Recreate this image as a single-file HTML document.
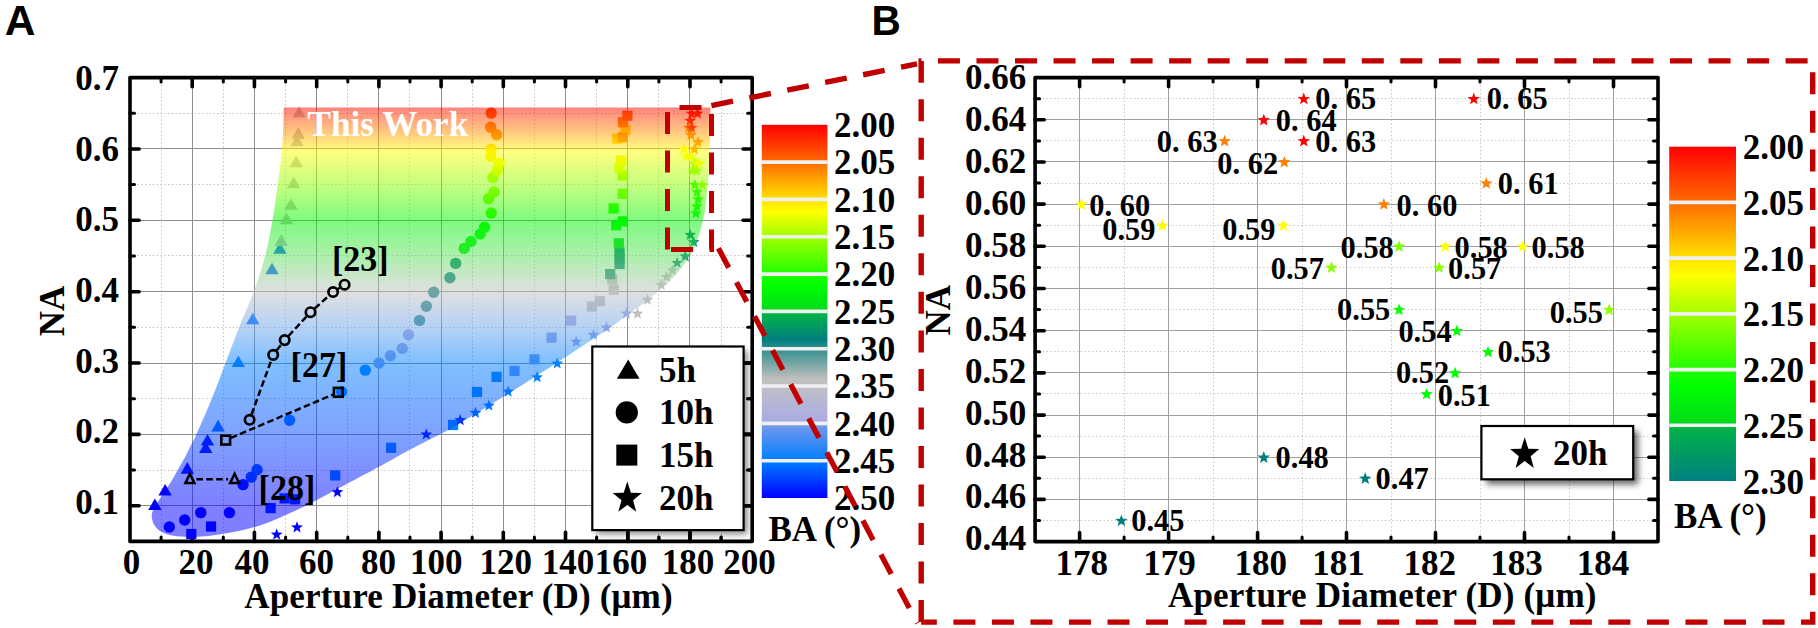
<!DOCTYPE html>
<html lang="en"><head><meta charset="utf-8"><title>Figure</title><style>html,body{margin:0;padding:0;background:#fff}svg{display:block}</style></head><body>
<svg width="1818" height="628" viewBox="0 0 1818 628">
<defs>
<linearGradient id="cbA" x1="0" y1="0" x2="0" y2="1">
<stop offset="0.0000" stop-color="#ff0000"/>
<stop offset="0.1000" stop-color="#ff6c00"/>
<stop offset="0.2000" stop-color="#ffe100"/>
<stop offset="0.2320" stop-color="#ffff00"/>
<stop offset="0.3000" stop-color="#a2ff00"/>
<stop offset="0.4000" stop-color="#20ff00"/>
<stop offset="0.4300" stop-color="#00ff00"/>
<stop offset="0.4940" stop-color="#00dc19"/>
<stop offset="0.5060" stop-color="#00b248"/>
<stop offset="0.5760" stop-color="#007e7e"/>
<stop offset="0.6000" stop-color="#328e8e"/>
<stop offset="0.6800" stop-color="#bebebe"/>
<stop offset="0.7000" stop-color="#c0c0c6"/>
<stop offset="0.7900" stop-color="#acace2"/>
<stop offset="0.8100" stop-color="#6e96ec"/>
<stop offset="0.9000" stop-color="#0080ff"/>
<stop offset="1.0000" stop-color="#0000ff"/>
</linearGradient>
<linearGradient id="cbB" x1="0" y1="0" x2="0" y2="1">
<stop offset="0.0000" stop-color="#ff0000"/>
<stop offset="0.1667" stop-color="#ff6c00"/>
<stop offset="0.3333" stop-color="#ffe100"/>
<stop offset="0.3867" stop-color="#ffff00"/>
<stop offset="0.5000" stop-color="#a2ff00"/>
<stop offset="0.6667" stop-color="#20ff00"/>
<stop offset="0.7167" stop-color="#00ff00"/>
<stop offset="0.8233" stop-color="#00dc19"/>
<stop offset="0.8433" stop-color="#00b248"/>
<stop offset="1.0000" stop-color="#008080"/>
</linearGradient>
<linearGradient id="ovl" gradientUnits="userSpaceOnUse" x1="0" y1="106.1" x2="0" y2="541.4">
<stop offset="0.0000" stop-color="#ff0000"/>
<stop offset="0.0508" stop-color="#ff7c00"/>
<stop offset="0.1033" stop-color="#ffff00"/>
<stop offset="0.1803" stop-color="#8cff00"/>
<stop offset="0.2623" stop-color="#00f500"/>
<stop offset="0.3443" stop-color="#5ae15a"/>
<stop offset="0.4262" stop-color="#c0c0c0"/>
<stop offset="0.5082" stop-color="#6ea5eb"/>
<stop offset="0.5902" stop-color="#0080ff"/>
<stop offset="0.7541" stop-color="#0046ff"/>
<stop offset="0.9180" stop-color="#0000ff"/>
<stop offset="1.0000" stop-color="#0000ff"/>
</linearGradient>
<filter id="sh" x="-15%" y="-30%" width="140%" height="170%"><feGaussianBlur stdDeviation="3"/></filter>
<clipPath id="clipA"><rect x="130.0" y="77.6" width="622.2" height="463.8"/></clipPath>
</defs>
<rect width="1818" height="628" fill="#ffffff"/>
<style>.tk{stroke:#000;stroke-width:3.6;stroke-linecap:round}.tm{stroke:#000;stroke-width:3;stroke-linecap:round}text{font-family:"Liberation Serif", "Times New Roman", serif;font-weight:bold;fill:#000}.s{font-family:"Liberation Sans", Arial, sans-serif}</style>
<g id="panelA">
<line x1="161.5" y1="77.6" x2="161.5" y2="541.4" stroke="#c2c2c2" stroke-width="1" stroke-dasharray="1.5 2.3"/>
<line x1="223.5" y1="77.6" x2="223.5" y2="541.4" stroke="#c2c2c2" stroke-width="1" stroke-dasharray="1.5 2.3"/>
<line x1="285.5" y1="77.6" x2="285.5" y2="541.4" stroke="#c2c2c2" stroke-width="1" stroke-dasharray="1.5 2.3"/>
<line x1="347.5" y1="77.6" x2="347.5" y2="541.4" stroke="#c2c2c2" stroke-width="1" stroke-dasharray="1.5 2.3"/>
<line x1="409.5" y1="77.6" x2="409.5" y2="541.4" stroke="#c2c2c2" stroke-width="1" stroke-dasharray="1.5 2.3"/>
<line x1="472.5" y1="77.6" x2="472.5" y2="541.4" stroke="#c2c2c2" stroke-width="1" stroke-dasharray="1.5 2.3"/>
<line x1="534.5" y1="77.6" x2="534.5" y2="541.4" stroke="#c2c2c2" stroke-width="1" stroke-dasharray="1.5 2.3"/>
<line x1="596.5" y1="77.6" x2="596.5" y2="541.4" stroke="#c2c2c2" stroke-width="1" stroke-dasharray="1.5 2.3"/>
<line x1="658.5" y1="77.6" x2="658.5" y2="541.4" stroke="#c2c2c2" stroke-width="1" stroke-dasharray="1.5 2.3"/>
<line x1="721.5" y1="77.6" x2="721.5" y2="541.4" stroke="#c2c2c2" stroke-width="1" stroke-dasharray="1.5 2.3"/>
<line x1="130.0" y1="470.5" x2="752.2" y2="470.5" stroke="#c2c2c2" stroke-width="1" stroke-dasharray="1.5 2.3"/>
<line x1="130.0" y1="398.5" x2="752.2" y2="398.5" stroke="#c2c2c2" stroke-width="1" stroke-dasharray="1.5 2.3"/>
<line x1="130.0" y1="327.5" x2="752.2" y2="327.5" stroke="#c2c2c2" stroke-width="1" stroke-dasharray="1.5 2.3"/>
<line x1="130.0" y1="255.5" x2="752.2" y2="255.5" stroke="#c2c2c2" stroke-width="1" stroke-dasharray="1.5 2.3"/>
<line x1="130.0" y1="184.5" x2="752.2" y2="184.5" stroke="#c2c2c2" stroke-width="1" stroke-dasharray="1.5 2.3"/>
<line x1="130.0" y1="113.5" x2="752.2" y2="113.5" stroke="#c2c2c2" stroke-width="1" stroke-dasharray="1.5 2.3"/>
<line x1="192.5" y1="77.6" x2="192.5" y2="541.4" stroke="#8e8e8e" stroke-width="1"/>
<line x1="254.5" y1="77.6" x2="254.5" y2="541.4" stroke="#8e8e8e" stroke-width="1"/>
<line x1="316.5" y1="77.6" x2="316.5" y2="541.4" stroke="#8e8e8e" stroke-width="1"/>
<line x1="378.5" y1="77.6" x2="378.5" y2="541.4" stroke="#8e8e8e" stroke-width="1"/>
<line x1="441.5" y1="77.6" x2="441.5" y2="541.4" stroke="#8e8e8e" stroke-width="1"/>
<line x1="503.5" y1="77.6" x2="503.5" y2="541.4" stroke="#8e8e8e" stroke-width="1"/>
<line x1="565.5" y1="77.6" x2="565.5" y2="541.4" stroke="#8e8e8e" stroke-width="1"/>
<line x1="627.5" y1="77.6" x2="627.5" y2="541.4" stroke="#8e8e8e" stroke-width="1"/>
<line x1="689.5" y1="77.6" x2="689.5" y2="541.4" stroke="#8e8e8e" stroke-width="1"/>
<line x1="130.0" y1="505.5" x2="752.2" y2="505.5" stroke="#8e8e8e" stroke-width="1"/>
<line x1="130.0" y1="434.5" x2="752.2" y2="434.5" stroke="#8e8e8e" stroke-width="1"/>
<line x1="130.0" y1="363.5" x2="752.2" y2="363.5" stroke="#8e8e8e" stroke-width="1"/>
<line x1="130.0" y1="291.5" x2="752.2" y2="291.5" stroke="#8e8e8e" stroke-width="1"/>
<line x1="130.0" y1="220.5" x2="752.2" y2="220.5" stroke="#8e8e8e" stroke-width="1"/>
<line x1="130.0" y1="148.5" x2="752.2" y2="148.5" stroke="#8e8e8e" stroke-width="1"/>
<line x1="192.2" y1="541.4" x2="192.2" y2="532.3" class="tk"/>
<line x1="192.2" y1="77.6" x2="192.2" y2="86.7" class="tk"/>
<line x1="254.4" y1="541.4" x2="254.4" y2="532.3" class="tk"/>
<line x1="254.4" y1="77.6" x2="254.4" y2="86.7" class="tk"/>
<line x1="316.7" y1="541.4" x2="316.7" y2="532.3" class="tk"/>
<line x1="316.7" y1="77.6" x2="316.7" y2="86.7" class="tk"/>
<line x1="378.9" y1="541.4" x2="378.9" y2="532.3" class="tk"/>
<line x1="378.9" y1="77.6" x2="378.9" y2="86.7" class="tk"/>
<line x1="441.1" y1="541.4" x2="441.1" y2="532.3" class="tk"/>
<line x1="441.1" y1="77.6" x2="441.1" y2="86.7" class="tk"/>
<line x1="503.3" y1="541.4" x2="503.3" y2="532.3" class="tk"/>
<line x1="503.3" y1="77.6" x2="503.3" y2="86.7" class="tk"/>
<line x1="565.5" y1="541.4" x2="565.5" y2="532.3" class="tk"/>
<line x1="565.5" y1="77.6" x2="565.5" y2="86.7" class="tk"/>
<line x1="627.8" y1="541.4" x2="627.8" y2="532.3" class="tk"/>
<line x1="627.8" y1="77.6" x2="627.8" y2="86.7" class="tk"/>
<line x1="690.0" y1="541.4" x2="690.0" y2="532.3" class="tk"/>
<line x1="690.0" y1="77.6" x2="690.0" y2="86.7" class="tk"/>
<line x1="161.1" y1="541.4" x2="161.1" y2="536.9" class="tm"/>
<line x1="161.1" y1="77.6" x2="161.1" y2="82.1" class="tm"/>
<line x1="223.3" y1="541.4" x2="223.3" y2="536.9" class="tm"/>
<line x1="223.3" y1="77.6" x2="223.3" y2="82.1" class="tm"/>
<line x1="285.6" y1="541.4" x2="285.6" y2="536.9" class="tm"/>
<line x1="285.6" y1="77.6" x2="285.6" y2="82.1" class="tm"/>
<line x1="347.8" y1="541.4" x2="347.8" y2="536.9" class="tm"/>
<line x1="347.8" y1="77.6" x2="347.8" y2="82.1" class="tm"/>
<line x1="410.0" y1="541.4" x2="410.0" y2="536.9" class="tm"/>
<line x1="410.0" y1="77.6" x2="410.0" y2="82.1" class="tm"/>
<line x1="472.2" y1="541.4" x2="472.2" y2="536.9" class="tm"/>
<line x1="472.2" y1="77.6" x2="472.2" y2="82.1" class="tm"/>
<line x1="534.4" y1="541.4" x2="534.4" y2="536.9" class="tm"/>
<line x1="534.4" y1="77.6" x2="534.4" y2="82.1" class="tm"/>
<line x1="596.6" y1="541.4" x2="596.6" y2="536.9" class="tm"/>
<line x1="596.6" y1="77.6" x2="596.6" y2="82.1" class="tm"/>
<line x1="658.9" y1="541.4" x2="658.9" y2="536.9" class="tm"/>
<line x1="658.9" y1="77.6" x2="658.9" y2="82.1" class="tm"/>
<line x1="721.1" y1="541.4" x2="721.1" y2="536.9" class="tm"/>
<line x1="721.1" y1="77.6" x2="721.1" y2="82.1" class="tm"/>
<line x1="130.0" y1="505.7" x2="139.1" y2="505.7" class="tk"/>
<line x1="752.2" y1="505.7" x2="743.1" y2="505.7" class="tk"/>
<line x1="130.0" y1="434.4" x2="139.1" y2="434.4" class="tk"/>
<line x1="752.2" y1="434.4" x2="743.1" y2="434.4" class="tk"/>
<line x1="130.0" y1="363.0" x2="139.1" y2="363.0" class="tk"/>
<line x1="752.2" y1="363.0" x2="743.1" y2="363.0" class="tk"/>
<line x1="130.0" y1="291.7" x2="139.1" y2="291.7" class="tk"/>
<line x1="752.2" y1="291.7" x2="743.1" y2="291.7" class="tk"/>
<line x1="130.0" y1="220.3" x2="139.1" y2="220.3" class="tk"/>
<line x1="752.2" y1="220.3" x2="743.1" y2="220.3" class="tk"/>
<line x1="130.0" y1="149.0" x2="139.1" y2="149.0" class="tk"/>
<line x1="752.2" y1="149.0" x2="743.1" y2="149.0" class="tk"/>
<line x1="130.0" y1="470.0" x2="134.5" y2="470.0" class="tm"/>
<line x1="752.2" y1="470.0" x2="747.7" y2="470.0" class="tm"/>
<line x1="130.0" y1="398.7" x2="134.5" y2="398.7" class="tm"/>
<line x1="752.2" y1="398.7" x2="747.7" y2="398.7" class="tm"/>
<line x1="130.0" y1="327.3" x2="134.5" y2="327.3" class="tm"/>
<line x1="752.2" y1="327.3" x2="747.7" y2="327.3" class="tm"/>
<line x1="130.0" y1="256.0" x2="134.5" y2="256.0" class="tm"/>
<line x1="752.2" y1="256.0" x2="747.7" y2="256.0" class="tm"/>
<line x1="130.0" y1="184.6" x2="134.5" y2="184.6" class="tm"/>
<line x1="752.2" y1="184.6" x2="747.7" y2="184.6" class="tm"/>
<line x1="130.0" y1="113.3" x2="134.5" y2="113.3" class="tm"/>
<line x1="752.2" y1="113.3" x2="747.7" y2="113.3" class="tm"/>
<g id="ptsA">
<polygon points="154.9,498.4 161.6,510.0 148.2,510.0" fill="#0000ff"/>
<polygon points="165.1,484.0 171.8,495.6 158.4,495.6" fill="#0000ff"/>
<polygon points="187.3,462.1 194.0,473.7 180.6,473.7" fill="#0000ff"/>
<polygon points="205.7,441.4 212.4,453.0 199.0,453.0" fill="#0000ff"/>
<polygon points="207.5,433.9 214.2,445.5 200.8,445.5" fill="#0000ff"/>
<polygon points="218.1,419.8 224.8,431.4 211.4,431.4" fill="#0066ff"/>
<polygon points="238.4,355.5 245.1,367.1 231.7,367.1" fill="#0080ff"/>
<polygon points="252.8,312.7 259.5,324.3 246.1,324.3" fill="#0073ff"/>
<polygon points="272.0,262.7 278.7,274.3 265.3,274.3" fill="#0066ff"/>
<polygon points="279.9,242.2 286.6,253.8 273.2,253.8" fill="#0066ff"/>
<polygon points="281.2,234.3 287.9,245.9 274.5,245.9" fill="#b7b7d2"/>
<polygon points="286.5,212.6 293.2,224.2 279.8,224.2" fill="#bfbfc2"/>
<polygon points="290.9,198.2 297.6,209.8 284.2,209.8" fill="#bfbfc2"/>
<polygon points="293.6,176.6 300.3,188.2 286.9,188.2" fill="#bfbfc2"/>
<polygon points="296.2,155.6 302.9,167.2 289.5,167.2" fill="#bfbfc2"/>
<polygon points="297.0,134.6 303.7,146.2 290.3,146.2" fill="#bfbfc2"/>
<polygon points="298.3,127.1 305.0,138.7 291.6,138.7" fill="#bfbfc2"/>
<polygon points="299.1,106.0 305.8,117.6 292.4,117.6" fill="#bfbfc2"/>
<circle cx="169.3" cy="527.0" r="5.7" fill="#0000ff"/>
<circle cx="184.7" cy="520.0" r="5.7" fill="#0000ff"/>
<circle cx="200.8" cy="512.6" r="5.7" fill="#0000ff"/>
<circle cx="229.4" cy="512.6" r="5.7" fill="#0000ff"/>
<circle cx="243.1" cy="484.6" r="5.7" fill="#0000ff"/>
<circle cx="251.3" cy="477.1" r="5.7" fill="#0040ff"/>
<circle cx="257.1" cy="469.7" r="5.7" fill="#004dff"/>
<circle cx="289.6" cy="420.2" r="5.7" fill="#0066ff"/>
<circle cx="341.6" cy="391.8" r="5.7" fill="#0073ff"/>
<circle cx="365.3" cy="370.1" r="5.7" fill="#0080ff"/>
<circle cx="379.0" cy="363.0" r="5.7" fill="#819de9"/>
<circle cx="390.4" cy="355.7" r="5.7" fill="#93a3e6"/>
<circle cx="402.3" cy="348.4" r="5.7" fill="#a0a8e4"/>
<circle cx="408.5" cy="334.8" r="5.7" fill="#acace2"/>
<circle cx="419.5" cy="320.4" r="5.7" fill="#328e8e"/>
<circle cx="426.4" cy="306.2" r="5.7" fill="#328e8e"/>
<circle cx="433.7" cy="292.2" r="5.7" fill="#1d8787"/>
<circle cx="449.9" cy="277.8" r="5.7" fill="#088181"/>
<circle cx="455.7" cy="263.4" r="5.7" fill="#008a72"/>
<circle cx="464.2" cy="248.4" r="5.7" fill="#00f408"/>
<circle cx="471.0" cy="241.5" r="5.7" fill="#00fa04"/>
<circle cx="480.2" cy="234.0" r="5.7" fill="#00ff00"/>
<circle cx="484.6" cy="227.2" r="5.7" fill="#0bff00"/>
<circle cx="491.2" cy="213.0" r="5.7" fill="#3aff00"/>
<circle cx="488.6" cy="198.6" r="5.7" fill="#6eff00"/>
<circle cx="494.1" cy="192.0" r="5.7" fill="#7bff00"/>
<circle cx="492.8" cy="177.5" r="5.7" fill="#a2ff00"/>
<circle cx="497.3" cy="170.2" r="5.7" fill="#e6ff00"/>
<circle cx="499.1" cy="163.1" r="5.7" fill="#fffd00"/>
<circle cx="490.7" cy="156.2" r="5.7" fill="#fff400"/>
<circle cx="491.2" cy="149.1" r="5.7" fill="#ffe100"/>
<circle cx="496.7" cy="134.7" r="5.7" fill="#ff8800"/>
<circle cx="490.7" cy="127.3" r="5.7" fill="#ff7800"/>
<circle cx="491.2" cy="113.1" r="5.7" fill="#ff4c00"/>
<rect x="186.2" y="528.9" width="10.2" height="10.2" fill="#0000ff"/>
<rect x="205.9" y="521.4" width="10.2" height="10.2" fill="#0000ff"/>
<rect x="265.5" y="503.0" width="10.2" height="10.2" fill="#0026ff"/>
<rect x="279.5" y="493.3" width="10.2" height="10.2" fill="#0026ff"/>
<rect x="290.0" y="494.2" width="10.2" height="10.2" fill="#0026ff"/>
<rect x="330.1" y="470.3" width="10.2" height="10.2" fill="#0073ff"/>
<rect x="386.0" y="442.7" width="10.2" height="10.2" fill="#0080ff"/>
<rect x="448.0" y="419.9" width="10.2" height="10.2" fill="#0080ff"/>
<rect x="471.9" y="386.9" width="10.2" height="10.2" fill="#0080ff"/>
<rect x="491.5" y="371.8" width="10.2" height="10.2" fill="#0080ff"/>
<rect x="509.4" y="365.8" width="10.2" height="10.2" fill="#6294ee"/>
<rect x="529.4" y="354.2" width="10.2" height="10.2" fill="#6e96ec"/>
<rect x="546.5" y="332.5" width="10.2" height="10.2" fill="#8da1e7"/>
<rect x="566.0" y="315.5" width="10.2" height="10.2" fill="#acace2"/>
<rect x="586.8" y="301.4" width="10.2" height="10.2" fill="#bfbfc2"/>
<rect x="594.7" y="296.1" width="10.2" height="10.2" fill="#bfbfc2"/>
<rect x="608.6" y="284.6" width="10.2" height="10.2" fill="#bfbfc2"/>
<rect x="607.1" y="274.4" width="10.2" height="10.2" fill="#bfbfc2"/>
<rect x="605.1" y="269.0" width="10.2" height="10.2" fill="#328e8e"/>
<rect x="614.5" y="258.9" width="10.2" height="10.2" fill="#1d8787"/>
<rect x="614.5" y="253.4" width="10.2" height="10.2" fill="#088181"/>
<rect x="614.4" y="247.4" width="10.2" height="10.2" fill="#008279"/>
<rect x="613.7" y="238.2" width="10.2" height="10.2" fill="#00de17"/>
<rect x="611.2" y="220.2" width="10.2" height="10.2" fill="#00fa04"/>
<rect x="617.6" y="216.3" width="10.2" height="10.2" fill="#00fa04"/>
<rect x="608.5" y="203.3" width="10.2" height="10.2" fill="#15ff00"/>
<rect x="617.6" y="188.7" width="10.2" height="10.2" fill="#6eff00"/>
<rect x="617.6" y="170.3" width="10.2" height="10.2" fill="#a2ff00"/>
<rect x="614.4" y="163.0" width="10.2" height="10.2" fill="#e6ff00"/>
<rect x="616.2" y="155.4" width="10.2" height="10.2" fill="#fff400"/>
<rect x="612.3" y="133.5" width="10.2" height="10.2" fill="#ffca00"/>
<rect x="620.4" y="124.9" width="10.2" height="10.2" fill="#ffca00"/>
<rect x="617.8" y="132.2" width="10.2" height="10.2" fill="#ff8800"/>
<rect x="617.8" y="117.2" width="10.2" height="10.2" fill="#ff7300"/>
<rect x="622.3" y="110.7" width="10.2" height="10.2" fill="#ff5600"/>
<polygon points="276.7,528.4 278.2,532.5 282.6,532.7 279.2,535.4 280.3,539.6 276.7,537.2 273.1,539.6 274.2,535.4 270.8,532.7 275.2,532.5" fill="#0000ff"/>
<polygon points="297.0,521.2 298.5,525.3 302.9,525.5 299.5,528.2 300.6,532.4 297.0,530.0 293.4,532.4 294.5,528.2 291.1,525.5 295.5,525.3" fill="#0000ff"/>
<polygon points="337.4,486.0 338.9,490.1 343.3,490.3 339.9,493.0 341.0,497.2 337.4,494.8 333.8,497.2 334.9,493.0 331.5,490.3 335.9,490.1" fill="#0000ff"/>
<polygon points="426.3,428.3 427.8,432.4 432.2,432.6 428.8,435.3 429.9,439.5 426.3,437.1 422.7,439.5 423.8,435.3 420.4,432.6 424.8,432.4" fill="#0000ff"/>
<polygon points="460.2,414.0 461.7,418.1 466.1,418.3 462.7,421.0 463.8,425.2 460.2,422.8 456.6,425.2 457.7,421.0 454.3,418.3 458.7,418.1" fill="#001aff"/>
<polygon points="475.5,406.7 477.0,410.8 481.4,411.0 478.0,413.7 479.1,417.9 475.5,415.5 471.9,417.9 473.0,413.7 469.6,411.0 474.0,410.8" fill="#0066ff"/>
<polygon points="488.9,399.4 490.4,403.5 494.8,403.7 491.4,406.4 492.5,410.6 488.9,408.2 485.3,410.6 486.4,406.4 483.0,403.7 487.4,403.5" fill="#0073ff"/>
<polygon points="508.2,385.5 509.7,389.6 514.1,389.8 510.7,392.5 511.8,396.7 508.2,394.3 504.6,396.7 505.7,392.5 502.3,389.8 506.7,389.6" fill="#0080ff"/>
<polygon points="537.2,371.1 538.7,375.2 543.1,375.4 539.7,378.1 540.8,382.3 537.2,379.9 533.6,382.3 534.7,378.1 531.3,375.4 535.7,375.2" fill="#0080ff"/>
<polygon points="557.2,357.3 558.7,361.4 563.1,361.6 559.7,364.3 560.8,368.5 557.2,366.1 553.6,368.5 554.7,364.3 551.3,361.6 555.7,361.4" fill="#0080ff"/>
<polygon points="576.2,335.6 577.7,339.7 582.1,339.9 578.7,342.6 579.8,346.8 576.2,344.4 572.6,346.8 573.7,342.6 570.3,339.9 574.7,339.7" fill="#8da1e7"/>
<polygon points="593.5,328.7 595.0,332.8 599.4,333.0 596.0,335.7 597.1,339.9 593.5,337.5 589.9,339.9 591.0,335.7 587.6,333.0 592.0,332.8" fill="#8da1e7"/>
<polygon points="606.5,321.4 608.0,325.5 612.4,325.7 609.0,328.4 610.1,332.6 606.5,330.2 602.9,332.6 604.0,328.4 600.6,325.7 605.0,325.5" fill="#99a5e5"/>
<polygon points="626.4,307.5 627.9,311.6 632.3,311.8 628.9,314.5 630.0,318.7 626.4,316.3 622.8,318.7 623.9,314.5 620.5,311.8 624.9,311.6" fill="#a6aae3"/>
<polygon points="637.5,307.5 639.0,311.6 643.4,311.8 640.0,314.5 641.1,318.7 637.5,316.3 633.9,318.7 635.0,314.5 631.6,311.8 636.0,311.6" fill="#bfbfc2"/>
<polygon points="647.4,293.7 648.9,297.8 653.3,298.0 649.9,300.7 651.0,304.9 647.4,302.5 643.8,304.9 644.9,300.7 641.5,298.0 645.9,297.8" fill="#bfbfc2"/>
<polygon points="661.3,278.7 662.8,282.8 667.2,283.0 663.8,285.7 664.9,289.9 661.3,287.5 657.7,289.9 658.8,285.7 655.4,283.0 659.8,282.8" fill="#bfbfc2"/>
<polygon points="666.6,270.8 668.1,274.9 672.5,275.1 669.1,277.8 670.2,282.0 666.6,279.6 663.0,282.0 664.1,277.8 660.7,275.1 665.1,274.9" fill="#bfbfc2"/>
<polygon points="672.4,264.3 673.9,268.4 678.3,268.6 674.9,271.3 676.0,275.5 672.4,273.1 668.8,275.5 669.9,271.3 666.5,268.6 670.9,268.4" fill="#bfbfc2"/>
<polygon points="677.1,256.8 678.6,260.9 683.0,261.1 679.6,263.8 680.7,268.0 677.1,265.6 673.5,268.0 674.6,263.8 671.2,261.1 675.6,260.9" fill="#1d8787"/>
<polygon points="691.6,107.4 693.1,111.5 697.5,111.7 694.1,114.5 695.2,118.7 691.6,116.3 688.0,118.7 689.1,114.5 685.7,111.7 690.1,111.5" fill="#ff0000"/>
<polygon points="697.5,107.4 699.1,111.5 703.4,111.7 700.0,114.5 701.2,118.7 697.5,116.3 693.9,118.7 695.1,114.5 691.6,111.7 696.0,111.5" fill="#ff0000"/>
<polygon points="690.2,114.6 691.7,118.7 696.1,118.9 692.7,121.6 693.8,125.8 690.2,123.4 686.6,125.8 687.7,121.6 684.3,118.9 688.7,118.7" fill="#ff0000"/>
<polygon points="688.8,121.7 690.4,125.8 694.7,126.0 691.3,128.7 692.5,132.9 688.8,130.5 685.2,132.9 686.4,128.7 682.9,126.0 687.3,125.8" fill="#ff7f00"/>
<polygon points="691.6,121.7 693.1,125.8 697.5,126.0 694.1,128.7 695.2,132.9 691.6,130.5 688.0,132.9 689.1,128.7 685.7,126.0 690.1,125.8" fill="#ff0000"/>
<polygon points="690.9,128.9 692.4,132.9 696.8,133.1 693.4,135.9 694.6,140.1 690.9,137.7 687.3,140.1 688.4,135.9 685.0,133.1 689.4,132.9" fill="#ff7f00"/>
<polygon points="698.0,136.0 699.5,140.1 703.9,140.3 700.5,143.0 701.6,147.2 698.0,144.8 694.3,147.2 695.5,143.0 692.1,140.3 696.4,140.1" fill="#ff7f00"/>
<polygon points="683.8,143.1 685.4,147.2 689.7,147.4 686.3,150.1 687.5,154.3 683.8,151.9 680.2,154.3 681.3,150.1 677.9,147.4 682.3,147.2" fill="#ffff00"/>
<polygon points="694.4,143.1 695.9,147.2 700.3,147.4 696.9,150.1 698.0,154.3 694.4,151.9 690.8,154.3 691.9,150.1 688.5,147.4 692.9,147.2" fill="#ff7f00"/>
<polygon points="686.7,150.3 688.2,154.4 692.5,154.5 689.1,157.3 690.3,161.5 686.7,159.1 683.0,161.5 684.2,157.3 680.8,154.5 685.1,154.4" fill="#ffff00"/>
<polygon points="690.9,150.3 692.4,154.4 696.8,154.5 693.4,157.3 694.5,161.5 690.9,159.1 687.2,161.5 688.4,157.3 685.0,154.5 689.4,154.4" fill="#ffff00"/>
<polygon points="694.9,157.4 696.5,161.5 700.8,161.7 697.4,164.4 698.6,168.6 694.9,166.2 691.3,168.6 692.4,164.4 689.0,161.7 693.4,161.5" fill="#7bff00"/>
<polygon points="696.5,157.4 698.1,161.5 702.4,161.7 699.0,164.4 700.2,168.6 696.5,166.2 692.9,168.6 694.1,164.4 690.6,161.7 695.0,161.5" fill="#ffff00"/>
<polygon points="699.3,157.4 700.8,161.5 705.1,161.7 701.7,164.4 702.9,168.6 699.3,166.2 695.6,168.6 696.8,164.4 693.4,161.7 697.7,161.5" fill="#ffff00"/>
<polygon points="692.6,164.5 694.1,168.6 698.5,168.8 695.0,171.5 696.2,175.7 692.6,173.3 688.9,175.7 690.1,171.5 686.7,168.8 691.0,168.6" fill="#88ff00"/>
<polygon points="696.3,164.5 697.9,168.6 702.2,168.8 698.8,171.5 700.0,175.7 696.3,173.3 692.7,175.7 693.8,171.5 690.4,168.8 694.8,168.6" fill="#88ff00"/>
<polygon points="694.9,178.8 696.5,182.9 700.8,183.1 697.4,185.8 698.6,190.0 694.9,187.6 691.3,190.0 692.4,185.8 689.0,183.1 693.4,182.9" fill="#0bff00"/>
<polygon points="702.3,178.8 703.8,182.9 708.2,183.1 704.7,185.8 705.9,190.0 702.3,187.6 698.6,190.0 699.8,185.8 696.4,183.1 700.7,182.9" fill="#95ff00"/>
<polygon points="696.9,185.9 698.5,190.0 702.8,190.2 699.4,192.9 700.6,197.2 696.9,194.7 693.3,197.2 694.5,192.9 691.1,190.2 695.4,190.0" fill="#00ff00"/>
<polygon points="698.0,193.1 699.6,197.2 703.9,197.4 700.5,200.1 701.7,204.3 698.0,201.9 694.4,204.3 695.6,200.1 692.1,197.4 696.5,197.2" fill="#00ff00"/>
<polygon points="696.9,200.2 698.4,204.3 702.8,204.5 699.4,207.2 700.5,211.4 696.9,209.0 693.2,211.4 694.4,207.2 691.0,204.5 695.4,204.3" fill="#00ff00"/>
<polygon points="695.9,207.3 697.4,211.4 701.8,211.6 698.4,214.3 699.5,218.6 695.9,216.1 692.2,218.6 693.4,214.3 690.0,211.6 694.4,211.4" fill="#00ff00"/>
<polygon points="690.2,228.8 691.7,232.8 696.1,233.0 692.7,235.8 693.8,240.0 690.2,237.6 686.6,240.0 687.7,235.8 684.3,233.0 688.7,232.8" fill="#007e7e"/>
<polygon points="693.7,235.9 695.3,240.0 699.6,240.2 696.2,242.9 697.4,247.1 693.7,244.7 690.1,247.1 691.3,242.9 687.8,240.2 692.2,240.0" fill="#007e7e"/>
<polygon points="685.2,250.2 686.8,254.2 691.1,254.4 687.7,257.2 688.9,261.4 685.2,259.0 681.6,261.4 682.7,257.2 679.3,254.4 683.7,254.2" fill="#007e7e"/>
</g>
<path d="M710.6,107.6 C710.5,111.3 710.5,122.9 710.3,130.0 C710.1,137.1 709.9,143.0 709.6,150.0 C709.3,157.0 709.1,164.5 708.6,172.0 C708.1,179.5 707.4,188.5 706.7,195.0 C706.1,201.5 705.5,205.9 704.7,210.9 C703.9,215.9 702.9,220.2 701.7,224.9 C700.5,229.6 699.4,234.2 697.7,238.8 C696.1,243.5 694.1,248.5 691.8,252.8 C689.5,257.1 686.8,260.7 683.8,264.7 C680.8,268.7 677.4,272.7 673.8,276.7 C670.1,280.7 665.9,285.0 661.9,288.6 C657.9,292.2 653.9,295.5 649.9,298.6 C645.9,301.8 641.3,305.1 638.0,307.5 C634.7,309.9 635.3,309.3 630.0,313.2 C624.7,317.1 613.8,325.2 606.0,330.6 C598.2,336.0 595.0,337.8 583.3,345.4 C571.6,353.0 551.5,366.2 535.6,376.4 C519.7,386.5 502.1,397.6 487.8,406.3 C473.5,415.1 462.5,421.9 450.0,428.9 C437.5,435.9 424.8,441.8 412.7,448.2 C400.6,454.6 392.2,459.6 377.6,467.5 C363.0,475.4 338.0,488.6 325.1,495.5 C312.2,502.4 307.5,505.0 300.0,508.6 C292.5,512.2 286.4,514.8 280.2,517.4 C274.0,520.0 268.5,522.4 262.7,524.4 C256.9,526.4 251.0,528.1 245.2,529.6 C239.3,531.1 233.4,532.1 227.6,533.1 C221.8,534.1 215.9,535.1 210.1,535.8 C204.3,536.4 197.6,536.9 192.6,537.0 C187.6,537.1 184.4,537.0 180.3,536.6 C176.2,536.2 171.5,535.5 168.0,534.5 C164.5,533.5 161.6,532.2 159.3,530.5 C157.0,528.8 155.2,526.4 154.0,524.4 C152.8,522.4 152.2,520.2 151.9,518.2 C151.6,516.2 151.7,514.3 152.3,512.1 C153.0,509.9 154.1,508.0 155.8,505.1 C157.6,502.2 160.3,498.4 162.8,494.6 C165.3,490.8 168.2,486.4 170.7,482.3 C173.2,478.2 175.4,474.1 177.7,470.0 C180.0,465.9 182.5,461.9 184.7,457.8 C186.9,453.7 188.9,449.3 190.8,445.5 C192.7,441.7 192.3,443.4 196.1,435.0 C199.8,426.6 206.3,412.5 213.3,395.0 C220.3,377.5 231.2,347.5 238.1,330.0 C244.9,312.5 249.9,302.5 254.4,290.0 C258.9,277.5 262.4,266.6 265.4,255.0 C268.4,243.3 270.4,231.8 272.5,220.1 C274.6,208.4 276.2,196.2 277.8,184.6 C279.4,173.0 280.9,160.4 281.8,150.5 C282.7,140.6 283.1,132.2 283.4,125.0 C283.7,117.8 283.7,110.5 283.8,107.6 Z" fill="url(#ovl)" fill-opacity="0.5"/>
<text x="307.5" y="135.8" font-size="35.2" style="fill:#fff">This Work</text>
<line x1="251.5" y1="414.5" x2="271.3" y2="360.2" fill="none" stroke="#000" stroke-width="2.5" stroke-dasharray="6.6 3.3"/>
<line x1="276.6" y1="350.5" x2="281.3" y2="344.5" fill="none" stroke="#000" stroke-width="2.5" stroke-dasharray="6.6 3.3"/>
<line x1="288.5" y1="336.0" x2="306.7" y2="316.3" fill="none" stroke="#000" stroke-width="2.5" stroke-dasharray="6.6 3.3"/>
<line x1="314.7" y1="308.5" x2="328.9" y2="295.7" fill="none" stroke="#000" stroke-width="2.5" stroke-dasharray="6.6 3.3"/>
<line x1="337.8" y1="289.0" x2="339.9" y2="287.7" fill="none" stroke="#000" stroke-width="2.5" stroke-dasharray="6.6 3.3"/>
<circle cx="249.6" cy="419.8" r="4.7" fill="none" stroke="#000" stroke-width="2.7"/>
<circle cx="273.2" cy="354.9" r="4.7" fill="none" stroke="#000" stroke-width="2.7"/>
<circle cx="284.7" cy="340.1" r="4.7" fill="none" stroke="#000" stroke-width="2.7"/>
<circle cx="310.5" cy="312.2" r="4.7" fill="none" stroke="#000" stroke-width="2.7"/>
<circle cx="333.1" cy="292.0" r="4.7" fill="none" stroke="#000" stroke-width="2.7"/>
<circle cx="344.6" cy="284.7" r="4.7" fill="none" stroke="#000" stroke-width="2.7"/>
<line x1="230.9" y1="437.9" x2="333.1" y2="394.5" fill="none" stroke="#000" stroke-width="2.5" stroke-dasharray="6.6 3.3"/>
<rect x="221.3" y="435.7" width="8.8" height="8.8" fill="none" stroke="#000" stroke-width="2.6"/>
<rect x="333.9" y="387.9" width="8.8" height="8.8" fill="none" stroke="#000" stroke-width="2.6"/>
<line x1="196.4" y1="479.2" x2="228.1" y2="479.2" fill="none" stroke="#000" stroke-width="2.5" stroke-dasharray="6.6 3.3"/>
<polygon points="189.9,473.8 194.4,483.1 185.4,483.1" fill="none" stroke="#000" stroke-width="2.5"/>
<polygon points="234.6,473.8 239.1,483.1 230.1,483.1" fill="none" stroke="#000" stroke-width="2.5"/>
<text transform="translate(332.0,270.9) scale(0.945,1)" font-size="36">[23]</text>
<text transform="translate(290.6,376.6) scale(0.945,1)" font-size="36">[27]</text>
<text transform="translate(258.6,499.7) scale(0.945,1)" font-size="36">[28]</text>
<text x="119" y="89.9" font-size="35" text-anchor="end">0.7</text>
<text x="119" y="160.6" font-size="35" text-anchor="end">0.6</text>
<text x="119" y="231.2" font-size="35" text-anchor="end">0.5</text>
<text x="119" y="301.8" font-size="35" text-anchor="end">0.4</text>
<text x="119" y="372.5" font-size="35" text-anchor="end">0.3</text>
<text x="119" y="443.1" font-size="35" text-anchor="end">0.2</text>
<text x="119" y="513.8" font-size="35" text-anchor="end">0.1</text>
<text x="131.5" y="573.5" font-size="35" text-anchor="middle">0</text>
<text x="196.0" y="573.5" font-size="35" text-anchor="middle">20</text>
<text x="252.0" y="573.5" font-size="35" text-anchor="middle">40</text>
<text x="316.5" y="573.5" font-size="35" text-anchor="middle">60</text>
<text x="378.4" y="573.5" font-size="35" text-anchor="middle">80</text>
<text x="436.3" y="573.5" font-size="35" text-anchor="middle">100</text>
<text x="505.7" y="573.5" font-size="35" text-anchor="middle">120</text>
<text x="567.9" y="573.5" font-size="35" text-anchor="middle">140</text>
<text x="621.0" y="573.5" font-size="35" text-anchor="middle">160</text>
<text x="688.0" y="573.5" font-size="35" text-anchor="middle">180</text>
<text x="749.4" y="573.5" font-size="35" text-anchor="middle">200</text>
<text x="458.5" y="607.6" font-size="35.1" letter-spacing="0.15" text-anchor="middle">Aperture Diameter (D) (μm)</text>
<text transform="translate(63.9,311) rotate(-90)" font-size="35" text-anchor="middle">NA</text>
<g clip-path="url(#clipA)"><rect x="596.3" y="350.5" width="151.3" height="183.6" fill="#000" fill-opacity="0.46" filter="url(#sh)"/></g>
<line x1="627.8" y1="541.4" x2="627.8" y2="532.3" class="tk"/>
<line x1="690.0" y1="541.4" x2="690.0" y2="532.3" class="tk"/>
<line x1="658.9" y1="541.4" x2="658.9" y2="536.9" class="tm"/>
<line x1="721.1" y1="541.4" x2="721.1" y2="536.9" class="tm"/>
<line x1="752.2" y1="505.7" x2="743.1" y2="505.7" class="tk"/>
<line x1="752.2" y1="434.4" x2="743.1" y2="434.4" class="tk"/>
<line x1="752.2" y1="363.0" x2="743.1" y2="363.0" class="tk"/>
<line x1="752.2" y1="470.0" x2="747.7" y2="470.0" class="tm"/>
<line x1="752.2" y1="398.7" x2="747.7" y2="398.7" class="tm"/>
<rect x="592.3" y="346.5" width="151.3" height="183.6" fill="#fff" stroke="#000" stroke-width="2.2"/>
<polygon points="628.2,359.5 639.5,378.8 616.9,378.8" fill="#000"/>
<circle cx="626.8" cy="412.4" r="11.1" fill="#000"/>
<rect x="616.3" y="444.6" width="21.0" height="21.0" fill="#000"/>
<polygon points="627.3,481.4 630.9,492.7 641.9,493.0 633.1,500.3 636.3,511.8 627.3,504.9 618.3,511.8 621.5,500.3 612.7,493.0 623.7,492.7" fill="#000"/>
<text x="659" y="381.5" font-size="35">5h</text>
<text x="659" y="423.9" font-size="35">10h</text>
<text x="659" y="466.7" font-size="35">15h</text>
<text x="659" y="509.5" font-size="35">20h</text>
<rect x="130.0" y="77.6" width="622.2" height="463.8" fill="none" stroke="#000" stroke-width="3.6" stroke-linejoin="round"/>
<rect x="761.8" y="124.8" width="65.6" height="373.2" fill="url(#cbA)"/>
<text x="834" y="137.0" font-size="35">2.00</text>
<line x1="761.8" y1="162.1" x2="827.4" y2="162.1" stroke="#f0f0f0" stroke-width="3.6"/>
<text x="834" y="174.3" font-size="35">2.05</text>
<line x1="761.8" y1="199.4" x2="827.4" y2="199.4" stroke="#f0f0f0" stroke-width="3.6"/>
<text x="834" y="211.6" font-size="35">2.10</text>
<line x1="761.8" y1="236.8" x2="827.4" y2="236.8" stroke="#f0f0f0" stroke-width="3.6"/>
<text x="834" y="249.0" font-size="35">2.15</text>
<line x1="761.8" y1="274.1" x2="827.4" y2="274.1" stroke="#f0f0f0" stroke-width="3.6"/>
<text x="834" y="286.3" font-size="35">2.20</text>
<line x1="761.8" y1="311.4" x2="827.4" y2="311.4" stroke="#f0f0f0" stroke-width="3.6"/>
<text x="834" y="323.6" font-size="35">2.25</text>
<line x1="761.8" y1="348.7" x2="827.4" y2="348.7" stroke="#f0f0f0" stroke-width="3.6"/>
<text x="834" y="360.9" font-size="35">2.30</text>
<line x1="761.8" y1="386.0" x2="827.4" y2="386.0" stroke="#f0f0f0" stroke-width="3.6"/>
<text x="834" y="398.2" font-size="35">2.35</text>
<line x1="761.8" y1="423.4" x2="827.4" y2="423.4" stroke="#f0f0f0" stroke-width="3.6"/>
<text x="834" y="435.6" font-size="35">2.40</text>
<line x1="761.8" y1="460.7" x2="827.4" y2="460.7" stroke="#f0f0f0" stroke-width="3.6"/>
<text x="834" y="472.9" font-size="35">2.45</text>
<text x="834" y="510.2" font-size="35">2.50</text>
<text x="768.5" y="540.5" font-size="35">BA (°)</text>
</g>
<g id="panelB">
<line x1="1124.5" y1="77.6" x2="1124.5" y2="541.6" stroke="#c8c8c8" stroke-width="1" stroke-dasharray="1.5 2.3"/>
<line x1="1213.5" y1="77.6" x2="1213.5" y2="541.6" stroke="#c8c8c8" stroke-width="1" stroke-dasharray="1.5 2.3"/>
<line x1="1302.5" y1="77.6" x2="1302.5" y2="541.6" stroke="#c8c8c8" stroke-width="1" stroke-dasharray="1.5 2.3"/>
<line x1="1391.5" y1="77.6" x2="1391.5" y2="541.6" stroke="#c8c8c8" stroke-width="1" stroke-dasharray="1.5 2.3"/>
<line x1="1480.5" y1="77.6" x2="1480.5" y2="541.6" stroke="#c8c8c8" stroke-width="1" stroke-dasharray="1.5 2.3"/>
<line x1="1569.5" y1="77.6" x2="1569.5" y2="541.6" stroke="#c8c8c8" stroke-width="1" stroke-dasharray="1.5 2.3"/>
<line x1="1035.1" y1="520.5" x2="1658.0" y2="520.5" stroke="#c8c8c8" stroke-width="1" stroke-dasharray="1.5 2.3"/>
<line x1="1035.1" y1="478.5" x2="1658.0" y2="478.5" stroke="#c8c8c8" stroke-width="1" stroke-dasharray="1.5 2.3"/>
<line x1="1035.1" y1="436.5" x2="1658.0" y2="436.5" stroke="#c8c8c8" stroke-width="1" stroke-dasharray="1.5 2.3"/>
<line x1="1035.1" y1="393.5" x2="1658.0" y2="393.5" stroke="#c8c8c8" stroke-width="1" stroke-dasharray="1.5 2.3"/>
<line x1="1035.1" y1="351.5" x2="1658.0" y2="351.5" stroke="#c8c8c8" stroke-width="1" stroke-dasharray="1.5 2.3"/>
<line x1="1035.1" y1="309.5" x2="1658.0" y2="309.5" stroke="#c8c8c8" stroke-width="1" stroke-dasharray="1.5 2.3"/>
<line x1="1035.1" y1="267.5" x2="1658.0" y2="267.5" stroke="#c8c8c8" stroke-width="1" stroke-dasharray="1.5 2.3"/>
<line x1="1035.1" y1="225.5" x2="1658.0" y2="225.5" stroke="#c8c8c8" stroke-width="1" stroke-dasharray="1.5 2.3"/>
<line x1="1035.1" y1="183.5" x2="1658.0" y2="183.5" stroke="#c8c8c8" stroke-width="1" stroke-dasharray="1.5 2.3"/>
<line x1="1035.1" y1="140.5" x2="1658.0" y2="140.5" stroke="#c8c8c8" stroke-width="1" stroke-dasharray="1.5 2.3"/>
<line x1="1035.1" y1="98.5" x2="1658.0" y2="98.5" stroke="#c8c8c8" stroke-width="1" stroke-dasharray="1.5 2.3"/>
<line x1="1079.5" y1="77.6" x2="1079.5" y2="541.6" stroke="#a0a0a0" stroke-width="1"/>
<line x1="1168.5" y1="77.6" x2="1168.5" y2="541.6" stroke="#a0a0a0" stroke-width="1"/>
<line x1="1257.5" y1="77.6" x2="1257.5" y2="541.6" stroke="#a0a0a0" stroke-width="1"/>
<line x1="1346.5" y1="77.6" x2="1346.5" y2="541.6" stroke="#a0a0a0" stroke-width="1"/>
<line x1="1435.5" y1="77.6" x2="1435.5" y2="541.6" stroke="#a0a0a0" stroke-width="1"/>
<line x1="1524.5" y1="77.6" x2="1524.5" y2="541.6" stroke="#a0a0a0" stroke-width="1"/>
<line x1="1613.5" y1="77.6" x2="1613.5" y2="541.6" stroke="#a0a0a0" stroke-width="1"/>
<line x1="1035.1" y1="499.5" x2="1658.0" y2="499.5" stroke="#a0a0a0" stroke-width="1"/>
<line x1="1035.1" y1="457.5" x2="1658.0" y2="457.5" stroke="#a0a0a0" stroke-width="1"/>
<line x1="1035.1" y1="415.5" x2="1658.0" y2="415.5" stroke="#a0a0a0" stroke-width="1"/>
<line x1="1035.1" y1="372.5" x2="1658.0" y2="372.5" stroke="#a0a0a0" stroke-width="1"/>
<line x1="1035.1" y1="330.5" x2="1658.0" y2="330.5" stroke="#a0a0a0" stroke-width="1"/>
<line x1="1035.1" y1="288.5" x2="1658.0" y2="288.5" stroke="#a0a0a0" stroke-width="1"/>
<line x1="1035.1" y1="246.5" x2="1658.0" y2="246.5" stroke="#a0a0a0" stroke-width="1"/>
<line x1="1035.1" y1="204.5" x2="1658.0" y2="204.5" stroke="#a0a0a0" stroke-width="1"/>
<line x1="1035.1" y1="161.5" x2="1658.0" y2="161.5" stroke="#a0a0a0" stroke-width="1"/>
<line x1="1035.1" y1="119.5" x2="1658.0" y2="119.5" stroke="#a0a0a0" stroke-width="1"/>
<polygon points="1303.8,92.6 1305.4,96.9 1310.0,97.1 1306.4,99.9 1307.7,104.3 1303.8,101.8 1300.0,104.3 1301.2,99.9 1297.7,97.1 1302.2,96.9" fill="#ff0000"/>
<polygon points="1473.8,92.6 1475.4,96.9 1480.0,97.1 1476.4,99.9 1477.6,104.3 1473.8,101.8 1470.0,104.3 1471.2,99.9 1467.6,97.1 1472.2,96.9" fill="#ff0000"/>
<polygon points="1263.8,113.7 1265.4,118.0 1270.0,118.2 1266.4,121.0 1267.6,125.4 1263.8,122.9 1260.0,125.4 1261.2,121.0 1257.6,118.2 1262.2,118.0" fill="#ff0000"/>
<polygon points="1224.6,134.8 1226.2,139.1 1230.8,139.3 1227.2,142.1 1228.5,146.5 1224.6,144.0 1220.8,146.5 1222.0,142.1 1218.5,139.3 1223.0,139.1" fill="#ff7f00"/>
<polygon points="1303.8,134.8 1305.4,139.1 1310.0,139.3 1306.4,142.1 1307.7,146.5 1303.8,144.0 1300.0,146.5 1301.2,142.1 1297.7,139.3 1302.2,139.1" fill="#ff0000"/>
<polygon points="1284.3,155.9 1285.9,160.1 1290.4,160.3 1286.9,163.2 1288.1,167.6 1284.3,165.1 1280.4,167.6 1281.7,163.2 1278.1,160.3 1282.7,160.1" fill="#ff7f00"/>
<polygon points="1486.3,176.9 1487.9,181.2 1492.4,181.4 1488.9,184.3 1490.1,188.7 1486.3,186.2 1482.4,188.7 1483.7,184.3 1480.1,181.4 1484.7,181.2" fill="#ff7f00"/>
<polygon points="1081.4,198.0 1083.0,202.3 1087.6,202.5 1084.0,205.4 1085.2,209.8 1081.4,207.3 1077.6,209.8 1078.8,205.4 1075.2,202.5 1079.8,202.3" fill="#ffff00"/>
<polygon points="1383.9,198.0 1385.5,202.3 1390.1,202.5 1386.5,205.4 1387.7,209.8 1383.9,207.3 1380.1,209.8 1381.3,205.4 1377.7,202.5 1382.3,202.3" fill="#ff7f00"/>
<polygon points="1162.3,219.1 1164.0,223.4 1168.5,223.6 1164.9,226.5 1166.2,230.9 1162.3,228.4 1158.5,230.9 1159.8,226.5 1156.2,223.6 1160.7,223.4" fill="#ffff00"/>
<polygon points="1283.4,219.1 1285.0,223.4 1289.6,223.6 1286.0,226.5 1287.2,230.9 1283.4,228.4 1279.5,230.9 1280.8,226.5 1277.2,223.6 1281.8,223.4" fill="#ffff00"/>
<polygon points="1399.1,240.2 1400.7,244.5 1405.2,244.7 1401.6,247.6 1402.9,252.0 1399.1,249.4 1395.2,252.0 1396.5,247.6 1392.9,244.7 1397.4,244.5" fill="#7bff00"/>
<polygon points="1445.3,240.2 1446.9,244.5 1451.5,244.7 1447.9,247.6 1449.1,252.0 1445.3,249.4 1441.5,252.0 1442.7,247.6 1439.1,244.7 1443.7,244.5" fill="#ffff00"/>
<polygon points="1522.7,240.2 1524.3,244.5 1528.9,244.7 1525.3,247.6 1526.6,252.0 1522.7,249.4 1518.9,252.0 1520.1,247.6 1516.6,244.7 1521.1,244.5" fill="#ffff00"/>
<polygon points="1331.4,261.3 1333.0,265.6 1337.6,265.8 1334.0,268.7 1335.2,273.1 1331.4,270.5 1327.6,273.1 1328.8,268.7 1325.2,265.8 1329.8,265.6" fill="#88ff00"/>
<polygon points="1439.1,261.3 1440.7,265.6 1445.3,265.8 1441.7,268.7 1442.9,273.1 1439.1,270.5 1435.3,273.1 1436.5,268.7 1432.9,265.8 1437.5,265.6" fill="#88ff00"/>
<polygon points="1399.1,303.5 1400.7,307.8 1405.2,308.0 1401.6,310.8 1402.9,315.2 1399.1,312.7 1395.2,315.2 1396.5,310.8 1392.9,308.0 1397.4,307.8" fill="#0bff00"/>
<polygon points="1609.1,303.5 1610.7,307.8 1615.2,308.0 1611.7,310.8 1612.9,315.2 1609.1,312.7 1605.2,315.2 1606.5,310.8 1602.9,308.0 1607.5,307.8" fill="#95ff00"/>
<polygon points="1456.9,324.6 1458.5,328.9 1463.1,329.1 1459.5,331.9 1460.7,336.3 1456.9,333.8 1453.1,336.3 1454.3,331.9 1450.7,329.1 1455.3,328.9" fill="#00ff00"/>
<polygon points="1488.0,345.7 1489.6,350.0 1494.2,350.2 1490.6,353.0 1491.9,357.4 1488.0,354.9 1484.2,357.4 1485.4,353.0 1481.9,350.2 1486.4,350.0" fill="#00ff00"/>
<polygon points="1455.1,366.8 1456.7,371.1 1461.3,371.3 1457.7,374.1 1458.9,378.5 1455.1,376.0 1451.3,378.5 1452.5,374.1 1448.9,371.3 1453.5,371.1" fill="#00ff00"/>
<polygon points="1426.6,387.9 1428.2,392.1 1432.8,392.3 1429.2,395.2 1430.5,399.6 1426.6,397.1 1422.8,399.6 1424.0,395.2 1420.5,392.3 1425.0,392.1" fill="#00ff00"/>
<polygon points="1263.8,451.1 1265.4,455.4 1270.0,455.6 1266.4,458.5 1267.6,462.9 1263.8,460.4 1260.0,462.9 1261.2,458.5 1257.6,455.6 1262.2,455.4" fill="#007e7e"/>
<polygon points="1365.2,472.2 1366.8,476.5 1371.4,476.7 1367.8,479.6 1369.1,484.0 1365.2,481.4 1361.4,484.0 1362.6,479.6 1359.1,476.7 1363.6,476.5" fill="#007e7e"/>
<polygon points="1121.4,514.4 1123.0,518.7 1127.6,518.9 1124.0,521.7 1125.2,526.2 1121.4,523.6 1117.6,526.2 1118.8,521.7 1115.2,518.9 1119.8,518.7" fill="#007e7e"/>
<line x1="1079.6" y1="541.6" x2="1079.6" y2="532.5" class="tk"/>
<line x1="1079.6" y1="77.6" x2="1079.6" y2="86.7" class="tk"/>
<line x1="1168.6" y1="541.6" x2="1168.6" y2="532.5" class="tk"/>
<line x1="1168.6" y1="77.6" x2="1168.6" y2="86.7" class="tk"/>
<line x1="1257.6" y1="541.6" x2="1257.6" y2="532.5" class="tk"/>
<line x1="1257.6" y1="77.6" x2="1257.6" y2="86.7" class="tk"/>
<line x1="1346.5" y1="541.6" x2="1346.5" y2="532.5" class="tk"/>
<line x1="1346.5" y1="77.6" x2="1346.5" y2="86.7" class="tk"/>
<line x1="1435.5" y1="541.6" x2="1435.5" y2="532.5" class="tk"/>
<line x1="1435.5" y1="77.6" x2="1435.5" y2="86.7" class="tk"/>
<line x1="1524.5" y1="541.6" x2="1524.5" y2="532.5" class="tk"/>
<line x1="1524.5" y1="77.6" x2="1524.5" y2="86.7" class="tk"/>
<line x1="1613.5" y1="541.6" x2="1613.5" y2="532.5" class="tk"/>
<line x1="1613.5" y1="77.6" x2="1613.5" y2="86.7" class="tk"/>
<line x1="1124.1" y1="541.6" x2="1124.1" y2="537.1" class="tm"/>
<line x1="1124.1" y1="77.6" x2="1124.1" y2="82.1" class="tm"/>
<line x1="1213.1" y1="541.6" x2="1213.1" y2="537.1" class="tm"/>
<line x1="1213.1" y1="77.6" x2="1213.1" y2="82.1" class="tm"/>
<line x1="1302.1" y1="541.6" x2="1302.1" y2="537.1" class="tm"/>
<line x1="1302.1" y1="77.6" x2="1302.1" y2="82.1" class="tm"/>
<line x1="1391.0" y1="541.6" x2="1391.0" y2="537.1" class="tm"/>
<line x1="1391.0" y1="77.6" x2="1391.0" y2="82.1" class="tm"/>
<line x1="1480.0" y1="541.6" x2="1480.0" y2="537.1" class="tm"/>
<line x1="1480.0" y1="77.6" x2="1480.0" y2="82.1" class="tm"/>
<line x1="1569.0" y1="541.6" x2="1569.0" y2="537.1" class="tm"/>
<line x1="1569.0" y1="77.6" x2="1569.0" y2="82.1" class="tm"/>
<line x1="1035.1" y1="499.4" x2="1044.2" y2="499.4" class="tk"/>
<line x1="1658.0" y1="499.4" x2="1648.9" y2="499.4" class="tk"/>
<line x1="1035.1" y1="457.2" x2="1044.2" y2="457.2" class="tk"/>
<line x1="1658.0" y1="457.2" x2="1648.9" y2="457.2" class="tk"/>
<line x1="1035.1" y1="415.1" x2="1044.2" y2="415.1" class="tk"/>
<line x1="1658.0" y1="415.1" x2="1648.9" y2="415.1" class="tk"/>
<line x1="1035.1" y1="372.9" x2="1044.2" y2="372.9" class="tk"/>
<line x1="1658.0" y1="372.9" x2="1648.9" y2="372.9" class="tk"/>
<line x1="1035.1" y1="330.7" x2="1044.2" y2="330.7" class="tk"/>
<line x1="1658.0" y1="330.7" x2="1648.9" y2="330.7" class="tk"/>
<line x1="1035.1" y1="288.5" x2="1044.2" y2="288.5" class="tk"/>
<line x1="1658.0" y1="288.5" x2="1648.9" y2="288.5" class="tk"/>
<line x1="1035.1" y1="246.3" x2="1044.2" y2="246.3" class="tk"/>
<line x1="1658.0" y1="246.3" x2="1648.9" y2="246.3" class="tk"/>
<line x1="1035.1" y1="204.1" x2="1044.2" y2="204.1" class="tk"/>
<line x1="1658.0" y1="204.1" x2="1648.9" y2="204.1" class="tk"/>
<line x1="1035.1" y1="162.0" x2="1044.2" y2="162.0" class="tk"/>
<line x1="1658.0" y1="162.0" x2="1648.9" y2="162.0" class="tk"/>
<line x1="1035.1" y1="119.8" x2="1044.2" y2="119.8" class="tk"/>
<line x1="1658.0" y1="119.8" x2="1648.9" y2="119.8" class="tk"/>
<line x1="1035.1" y1="520.5" x2="1039.6" y2="520.5" class="tm"/>
<line x1="1658.0" y1="520.5" x2="1653.5" y2="520.5" class="tm"/>
<line x1="1035.1" y1="478.3" x2="1039.6" y2="478.3" class="tm"/>
<line x1="1658.0" y1="478.3" x2="1653.5" y2="478.3" class="tm"/>
<line x1="1035.1" y1="436.1" x2="1039.6" y2="436.1" class="tm"/>
<line x1="1658.0" y1="436.1" x2="1653.5" y2="436.1" class="tm"/>
<line x1="1035.1" y1="394.0" x2="1039.6" y2="394.0" class="tm"/>
<line x1="1658.0" y1="394.0" x2="1653.5" y2="394.0" class="tm"/>
<line x1="1035.1" y1="351.8" x2="1039.6" y2="351.8" class="tm"/>
<line x1="1658.0" y1="351.8" x2="1653.5" y2="351.8" class="tm"/>
<line x1="1035.1" y1="309.6" x2="1039.6" y2="309.6" class="tm"/>
<line x1="1658.0" y1="309.6" x2="1653.5" y2="309.6" class="tm"/>
<line x1="1035.1" y1="267.4" x2="1039.6" y2="267.4" class="tm"/>
<line x1="1658.0" y1="267.4" x2="1653.5" y2="267.4" class="tm"/>
<line x1="1035.1" y1="225.2" x2="1039.6" y2="225.2" class="tm"/>
<line x1="1658.0" y1="225.2" x2="1653.5" y2="225.2" class="tm"/>
<line x1="1035.1" y1="183.1" x2="1039.6" y2="183.1" class="tm"/>
<line x1="1658.0" y1="183.1" x2="1653.5" y2="183.1" class="tm"/>
<line x1="1035.1" y1="140.9" x2="1039.6" y2="140.9" class="tm"/>
<line x1="1658.0" y1="140.9" x2="1653.5" y2="140.9" class="tm"/>
<line x1="1035.1" y1="98.7" x2="1039.6" y2="98.7" class="tm"/>
<line x1="1658.0" y1="98.7" x2="1653.5" y2="98.7" class="tm"/>
<rect x="1035.1" y="77.6" width="622.9" height="464.0" fill="none" stroke="#000" stroke-width="3.6" stroke-linejoin="round"/>
<text transform="translate(1315.3,109.4) scale(0.95,1)" font-size="32">0. 65</text>
<text transform="translate(1486.8,109.4) scale(0.95,1)" font-size="32">0. 65</text>
<text transform="translate(1275.8,130.5) scale(0.95,1)" font-size="32">0. 64</text>
<text transform="translate(1156.8,151.5) scale(0.95,1)" font-size="32">0. 63</text>
<text transform="translate(1315.3,152.4) scale(0.95,1)" font-size="32">0. 63</text>
<text transform="translate(1217.3,174.1) scale(0.95,1)" font-size="32">0. 62</text>
<text transform="translate(1497.8,194.1) scale(0.95,1)" font-size="32">0. 61</text>
<text transform="translate(1089.3,216.1) scale(0.95,1)" font-size="32">0. 60</text>
<text transform="translate(1396.6,216.1) scale(0.95,1)" font-size="32">0. 60</text>
<text transform="translate(1102.3,239.6) scale(0.95,1)" font-size="32">0.59</text>
<text transform="translate(1222.3,239.6) scale(0.95,1)" font-size="32">0.59</text>
<text transform="translate(1340.6,257.5) scale(0.95,1)" font-size="32">0.58</text>
<text transform="translate(1454.6,257.5) scale(0.95,1)" font-size="32">0.58</text>
<text transform="translate(1531.6,257.5) scale(0.95,1)" font-size="32">0.58</text>
<text transform="translate(1270.8,279.2) scale(0.95,1)" font-size="32">0.57</text>
<text transform="translate(1448.1,279.2) scale(0.95,1)" font-size="32">0.57</text>
<text transform="translate(1337.1,319.7) scale(0.95,1)" font-size="32">0.55</text>
<text transform="translate(1549.8,322.7) scale(0.95,1)" font-size="32">0.55</text>
<text transform="translate(1398.4,342.0) scale(0.95,1)" font-size="32">0.54</text>
<text transform="translate(1497.6,362.4) scale(0.95,1)" font-size="32">0.53</text>
<text transform="translate(1395.9,383.0) scale(0.95,1)" font-size="32">0.52</text>
<text transform="translate(1437.7,406.2) scale(0.95,1)" font-size="32">0.51</text>
<text transform="translate(1275.6,468.2) scale(0.95,1)" font-size="32">0.48</text>
<text transform="translate(1375.6,488.5) scale(0.95,1)" font-size="32">0.47</text>
<text transform="translate(1131.2,530.8) scale(0.95,1)" font-size="32">0.45</text>
<text x="1026.3" y="88.7" font-size="35" text-anchor="end">0.66</text>
<text x="1026.3" y="130.7" font-size="35" text-anchor="end">0.64</text>
<text x="1026.3" y="172.6" font-size="35" text-anchor="end">0.62</text>
<text x="1026.3" y="214.6" font-size="35" text-anchor="end">0.60</text>
<text x="1026.3" y="256.6" font-size="35" text-anchor="end">0.58</text>
<text x="1026.3" y="298.6" font-size="35" text-anchor="end">0.56</text>
<text x="1026.3" y="340.5" font-size="35" text-anchor="end">0.54</text>
<text x="1026.3" y="382.5" font-size="35" text-anchor="end">0.52</text>
<text x="1026.3" y="424.5" font-size="35" text-anchor="end">0.50</text>
<text x="1026.3" y="466.5" font-size="35" text-anchor="end">0.48</text>
<text x="1026.3" y="508.4" font-size="35" text-anchor="end">0.46</text>
<text x="1026.3" y="550.4" font-size="35" text-anchor="end">0.44</text>
<text x="1081.8" y="575.1" font-size="35" text-anchor="middle">178</text>
<text x="1169.6" y="575.1" font-size="35" text-anchor="middle">179</text>
<text x="1260.8" y="575.1" font-size="35" text-anchor="middle">180</text>
<text x="1338.4" y="575.1" font-size="35" text-anchor="middle">181</text>
<text x="1429.7" y="575.1" font-size="35" text-anchor="middle">182</text>
<text x="1516.6" y="575.1" font-size="35" text-anchor="middle">183</text>
<text x="1603.1" y="575.1" font-size="35" text-anchor="middle">184</text>
<text x="1382.3" y="607.4" font-size="35.1" letter-spacing="0.15" text-anchor="middle">Aperture Diameter (D) (μm)</text>
<text transform="translate(950.3,310.2) rotate(-90)" font-size="35" text-anchor="middle">NA</text>
<rect x="1486.4" y="431.0" width="151.8" height="53.3" fill="#000" fill-opacity="0.6" filter="url(#sh)"/>
<rect x="1481.4" y="426.0" width="151.8" height="53.3" fill="#fff" stroke="#000" stroke-width="2.2"/>
<polygon points="1524.7,437.2 1528.3,448.7 1539.3,449.0 1530.6,456.3 1533.8,468.0 1524.7,461.0 1515.6,468.0 1518.8,456.3 1510.1,449.0 1521.1,448.7" fill="#000"/>
<text x="1553" y="464.8" font-size="35">20h</text>
<rect x="1669.2" y="146.7" width="66.8" height="334.3" fill="url(#cbB)"/>
<text x="1742.8" y="159.2" font-size="35">2.00</text>
<line x1="1669.2" y1="202.4" x2="1736.0" y2="202.4" stroke="#f0f0f0" stroke-width="3.6"/>
<text x="1742.8" y="214.9" font-size="35">2.05</text>
<line x1="1669.2" y1="258.1" x2="1736.0" y2="258.1" stroke="#f0f0f0" stroke-width="3.6"/>
<text x="1742.8" y="270.6" font-size="35">2.10</text>
<line x1="1669.2" y1="313.9" x2="1736.0" y2="313.9" stroke="#f0f0f0" stroke-width="3.6"/>
<text x="1742.8" y="326.4" font-size="35">2.15</text>
<line x1="1669.2" y1="369.6" x2="1736.0" y2="369.6" stroke="#f0f0f0" stroke-width="3.6"/>
<text x="1742.8" y="382.1" font-size="35">2.20</text>
<line x1="1669.2" y1="425.3" x2="1736.0" y2="425.3" stroke="#f0f0f0" stroke-width="3.6"/>
<text x="1742.8" y="437.8" font-size="35">2.25</text>
<text x="1742.8" y="493.5" font-size="35">2.30</text>
<text x="1674" y="528.2" font-size="35">BA (°)</text>
</g>
<g id="callout">
<path d="M667.5,249.4 V107.4 H711.5 V249.4 H667.5" fill="none" stroke="#c00000" stroke-width="5.0" stroke-dasharray="22 16.5"/>
<path d="M921.2,622.1 V60.9 H1812.7 V622.1 H921.2" fill="none" stroke="#c00000" stroke-width="5.4" stroke-dasharray="22 16.53"/>
<path d="M711.4,105.6 L917.0,63.8" fill="none" stroke="#c00000" stroke-width="5.4" stroke-dasharray="22 16.7"/>
<path d="M718.4,248.2 L917.4,623.3" fill="none" stroke="#c00000" stroke-width="5.4" stroke-dasharray="22 16.53"/>
</g>
<text class="s" x="4.8" y="35.1" font-size="42.5">A</text>
<text class="s" transform="translate(871.6,35.1) scale(0.955,1)" font-size="42.5">B</text>
</svg>
</body></html>
